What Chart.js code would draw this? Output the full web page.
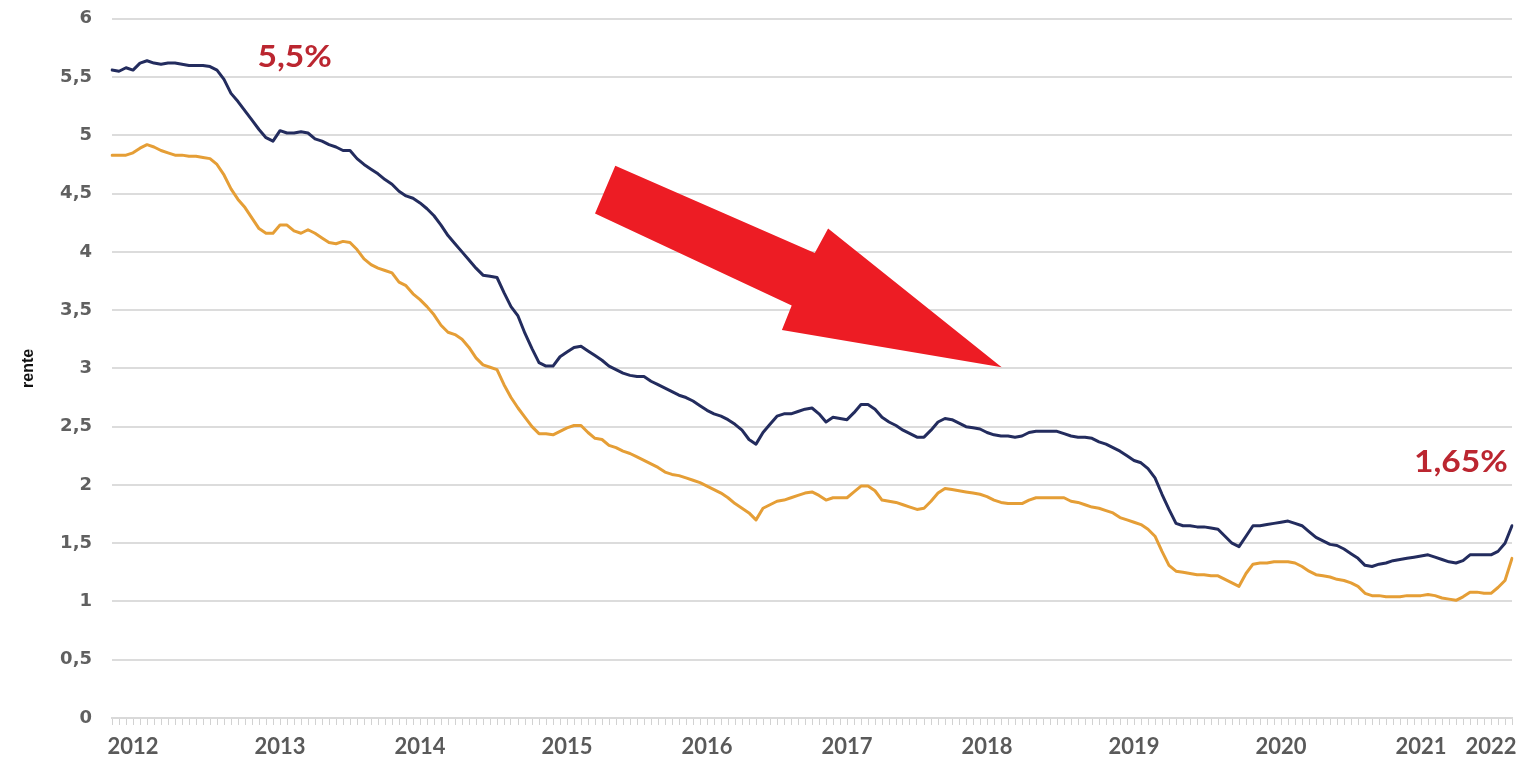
<!DOCTYPE html>
<html>
<head>
<meta charset="utf-8">
<script src="https://cdn.jsdelivr.net/npm/chart.js@4.4.1/dist/chart.umd.min.js"></script>
<style>
  html, body { margin: 0; padding: 0; background: #ffffff; }
  #wrap { width: 1524px; height: 760px; position: relative; }
</style>
</head>
<body>
<div id="wrap"><canvas id="c" width="1524" height="760"></canvas></div>
<script>
// ---- data ----
const pointCount = 201;
const yearLabels = ['2012','2013','2014','2015','2016','2017','2018','2019','2020','2021','2022'];
const yearPositions = [3, 24, 44, 65, 85, 105, 125, 146, 167, 187, 197];
const yTickLabels = ['0','0,5','1','1,5','2','2,5','3','3,5','4','4,5','5','5,5','6'];

const seriesBlue = [
  5.56,5.55,5.58,5.56,5.62,5.64,5.62,5.61,5.62,5.62,
  5.61,5.60,5.60,5.60,5.59,5.56,5.48,5.36,5.29,5.21,
  5.13,5.05,4.98,4.95,5.04,5.02,5.02,5.03,5.02,4.97,
  4.95,4.92,4.90,4.87,4.87,4.80,4.75,4.71,4.67,4.62,
  4.58,4.52,4.48,4.46,4.42,4.37,4.31,4.23,4.14,4.07,
  4.00,3.93,3.86,3.80,3.79,3.78,3.65,3.53,3.45,3.30,
  3.17,3.05,3.02,3.02,3.10,3.14,3.18,3.19,3.15,3.11,
  3.07,3.02,2.99,2.96,2.94,2.93,2.93,2.89,2.86,2.83,
  2.80,2.77,2.75,2.72,2.68,2.64,2.61,2.59,2.56,2.52,
  2.47,2.39,2.35,2.45,2.52,2.59,2.61,2.61,2.63,2.65,
  2.66,2.61,2.54,2.58,2.57,2.56,2.62,2.69,2.69,2.65,
  2.58,2.54,2.51,2.47,2.44,2.41,2.41,2.47,2.54,2.57,
  2.56,2.53,2.50,2.49,2.48,2.45,2.43,2.42,2.42,2.41,
  2.42,2.45,2.46,2.46,2.46,2.46,2.44,2.42,2.41,2.41,
  2.40,2.37,2.35,2.32,2.29,2.25,2.21,2.19,2.14,2.06,
  1.92,1.79,1.67,1.65,1.65,1.64,1.64,1.63,1.62,1.56,
  1.50,1.47,1.56,1.65,1.65,1.66,1.67,1.68,1.69,1.67,
  1.65,1.60,1.55,1.52,1.49,1.48,1.45,1.41,1.37,1.31,
  1.30,1.32,1.33,1.35,1.36,1.37,1.38,1.39,1.40,1.38,
  1.36,1.34,1.33,1.35,1.40,1.40,1.40,1.40,1.43,1.50,
  1.65
];

const seriesOrange = [
  4.83,4.83,4.83,4.85,4.89,4.92,4.90,4.87,4.85,4.83,
  4.83,4.82,4.82,4.81,4.80,4.75,4.66,4.54,4.45,4.38,
  4.29,4.20,4.16,4.16,4.23,4.23,4.18,4.16,4.19,4.16,
  4.12,4.08,4.07,4.09,4.08,4.02,3.94,3.89,3.86,3.84,
  3.82,3.74,3.71,3.64,3.59,3.53,3.46,3.37,3.31,3.29,
  3.25,3.18,3.09,3.03,3.01,2.99,2.86,2.75,2.66,2.58,
  2.50,2.44,2.44,2.43,2.46,2.49,2.51,2.51,2.45,2.40,
  2.39,2.34,2.32,2.29,2.27,2.24,2.21,2.18,2.15,2.11,
  2.09,2.08,2.06,2.04,2.02,1.99,1.96,1.93,1.89,1.84,
  1.80,1.76,1.70,1.80,1.83,1.86,1.87,1.89,1.91,1.93,
  1.94,1.91,1.87,1.89,1.89,1.89,1.94,1.99,1.99,1.95,
  1.87,1.86,1.85,1.83,1.81,1.79,1.80,1.86,1.93,1.97,
  1.96,1.95,1.94,1.93,1.92,1.90,1.87,1.85,1.84,1.84,
  1.84,1.87,1.89,1.89,1.89,1.89,1.89,1.86,1.85,1.83,
  1.81,1.80,1.78,1.76,1.72,1.70,1.68,1.66,1.62,1.56,
  1.43,1.31,1.26,1.25,1.24,1.23,1.23,1.22,1.22,1.19,
  1.16,1.13,1.24,1.32,1.33,1.33,1.34,1.34,1.34,1.33,
  1.30,1.26,1.23,1.22,1.21,1.19,1.18,1.16,1.13,1.07,
  1.05,1.05,1.04,1.04,1.04,1.05,1.05,1.05,1.06,1.05,
  1.03,1.02,1.01,1.04,1.08,1.08,1.07,1.07,1.12,1.18,
  1.37
];

// annotations (in data coordinates: category index, value)
const noteTexts = ['5,5%', '1,65%'];
const notePositions = [[26.1, 5.67, 'center'], [199.4, 2.19, 'right']];
// red arrow outline (category index, value)
const arrowOutline = [
  [71.9, 4.74], [100.4, 3.99], [102.3, 4.20], [127.1, 3.01],
  [95.7, 3.33], [97.1, 3.54], [69.0, 4.33]
];

// ---- build chart ----
const categories = Array.from({ length: pointCount }, (_, i) => {
  const k = yearPositions.indexOf(i);
  return k >= 0 ? yearLabels[k] : '';
});

const decorPlugin = {
  id: 'decor',
  beforeDatasetsDraw(chart) {
    const ctx = chart.ctx, xs = chart.scales.x, ys = chart.scales.y;
    ctx.save();
    ctx.beginPath();
    arrowOutline.forEach(([i, v], n) => {
      const px = xs.getPixelForValue(i), py = ys.getPixelForValue(v);
      if (n === 0) ctx.moveTo(px, py); else ctx.lineTo(px, py);
    });
    ctx.closePath();
    ctx.fillStyle = '#ed1c24';
    ctx.fill();
    ctx.restore();
  },
  afterDraw(chart) {
    const ctx = chart.ctx, xs = chart.scales.x, ys = chart.scales.y;
    noteTexts.forEach((t, k) => {
      const [i, v, align] = notePositions[k];
      ctx.save();
      ctx.translate(xs.getPixelForValue(i), ys.getPixelForValue(v));
      ctx.scale(1.12, 1);
      ctx.font = 'bold 30px Lato';
      ctx.fillStyle = '#bb2630';
      ctx.textAlign = align;
      ctx.textBaseline = 'middle';
      ctx.fillText(t, 0, 0);
      ctx.restore();
    });
  }
};

function draw() {
  new Chart(document.getElementById('c'), {
    type: 'line',
    data: {
      labels: categories,
      datasets: [
        { label: 'blue', data: seriesBlue, borderColor: '#232c5e', borderWidth: 3, pointRadius: 0, tension: 0 },
        { label: 'orange', data: seriesOrange, borderColor: '#e59e36', borderWidth: 3, pointRadius: 0, tension: 0 }
      ]
    },
    options: {
      responsive: false,
      animation: false,
      layout: { padding: { top: 0, right: 12, left: 0, bottom: 0 } },
      plugins: { legend: { display: false }, tooltip: { enabled: false } },
      elements: { line: { borderJoinStyle: 'round', borderCapStyle: 'round' } },
      scales: {
        x: {
          type: 'category',
          grid: { display: true, drawOnChartArea: false, drawTicks: true, tickLength: 7, color: '#d2d2d2', lineWidth: 1 },
          border: { display: true, color: '#d9d9d9', width: 2 },
          ticks: {
            autoSkip: false, maxRotation: 0, minRotation: 0, padding: 9,
            color: '#5a5a5a', font: { family: 'Lato', weight: 'bold', size: 22 },
            callback: (v, i) => categories[i]
          },
          afterFit: s => { s.height = 42; }
        },
        y: {
          min: 0, max: 6,
          ticks: {
            stepSize: 0.5, padding: 8, color: '#606060',
            font: { family: 'DejaVu Sans', weight: 'bold', size: 18 },
            callback: v => yTickLabels[Math.round(v * 2)]
          },
          grid: { color: '#dcdcdc', lineWidth: 2, drawTicks: true, tickLength: 12, tickColor: 'rgba(0,0,0,0)' },
          border: { display: false },
          title: {
            display: true, text: 'rente', color: '#111111',
            font: { family: 'Liberation Sans', weight: 'bold', size: 16 },
            padding: { top: 19, bottom: 0 }
          },
          afterFit: s => { s.width = 112; }
        }
      }
    },
    plugins: [decorPlugin]
  });
}

Promise.all([
  document.fonts.load('bold 22px Lato'),
  document.fonts.load('bold 30px Lato'),
  document.fonts.load('bold 18px "DejaVu Sans"'),
  document.fonts.load('bold 16px "Liberation Sans"')
]).then(draw, draw);
</script>
</body>
</html>
